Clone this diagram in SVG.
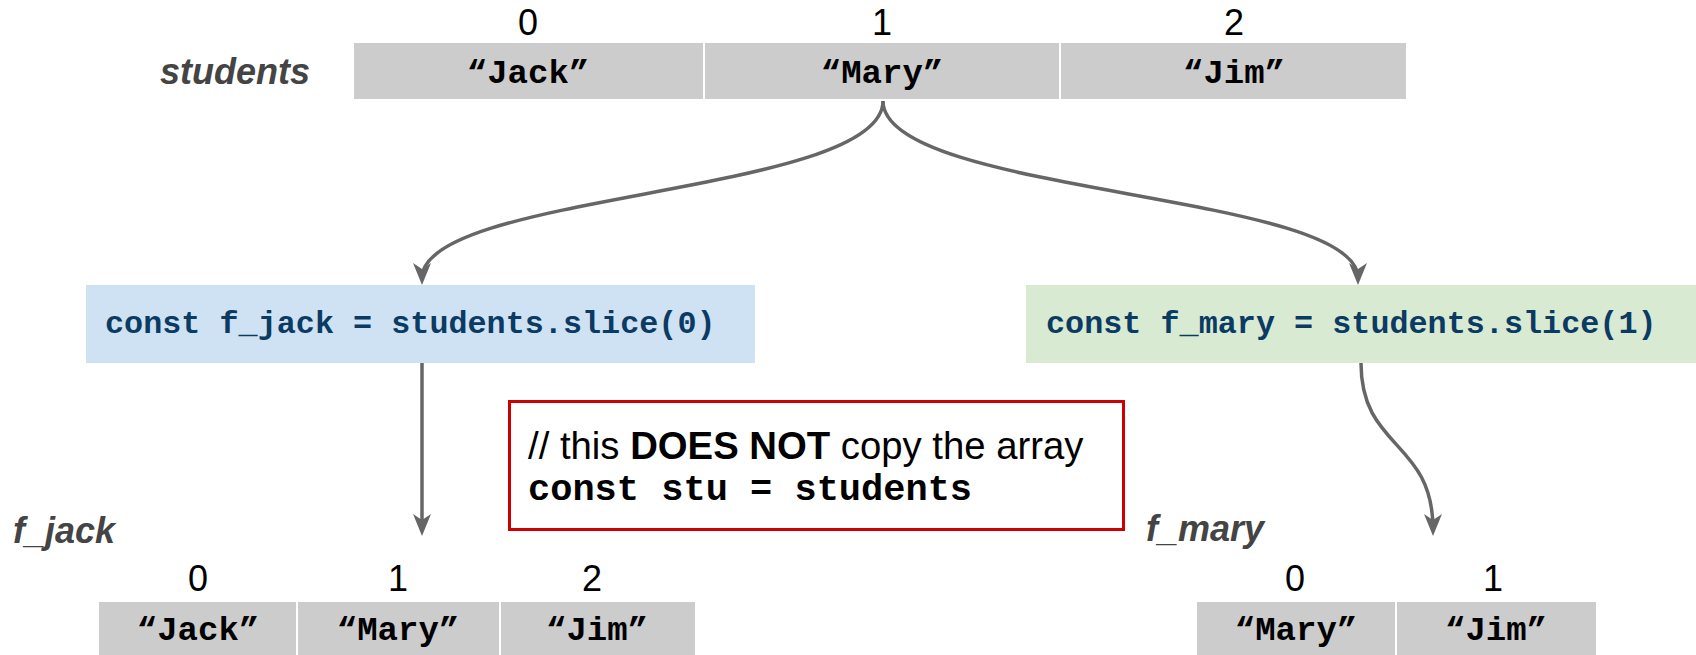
<svg xmlns="http://www.w3.org/2000/svg" width="1696" height="655" viewBox="0 0 1696 655">
<defs>
<style>
.cell{fill:#cccccc}
.val{font-family:"Liberation Mono","Courier New",monospace;font-weight:bold;font-size:34px;fill:#000;text-anchor:middle}
.idx{font-family:"Liberation Sans",Arial,sans-serif;font-size:36px;fill:#000;text-anchor:middle}
.lbl{font-family:"Liberation Sans",Arial,sans-serif;font-size:36px;font-weight:bold;font-style:italic;fill:#444444}
.code{font-family:"Liberation Mono","Courier New",monospace;font-weight:bold;font-size:31.8px;fill:#0b3a63}
.conn{fill:none;stroke:#666666;stroke-width:3.5}
</style>
<marker id="arr" viewBox="0 0 22 18" refX="15" refY="9" markerWidth="22" markerHeight="18" markerUnits="userSpaceOnUse" orient="auto">
<path d="M0,0 L22,9 L0,18 L6,9 Z" fill="#666666"/>
</marker>
</defs>

<g id="students-array">
<text class="lbl" x="160" y="84">students</text>
<rect class="cell" x="354" y="43" width="349" height="56"/>
<rect class="cell" x="705" y="43" width="354" height="56"/>
<rect class="cell" x="1061" y="43" width="345" height="56"/>
<text class="idx" x="528" y="35">0</text>
<text class="idx" x="882" y="35">1</text>
<text class="idx" x="1234" y="35">2</text>
<text class="val" x="528" y="83">“Jack”</text>
<text class="val" x="882" y="83">“Mary”</text>
<text class="val" x="1234" y="83">“Jim”</text>
</g>

<g id="slice0">
<rect x="86" y="285" width="669" height="78" fill="#cfe2f3"/>
<text class="code" x="105" y="333">const f_jack = students.slice(0)</text>
</g>

<g id="slice1">
<rect x="1026" y="285" width="670" height="78" fill="#d9ead3"/>
<text class="code" x="1046" y="333">const f_mary = students.slice(1)</text>
</g>

<g id="note">
<rect x="509.5" y="401.5" width="614" height="128" fill="#ffffff" stroke="#cc0000" stroke-width="3"/>
<text x="528" y="459" font-family="'Liberation Sans',Arial,sans-serif" font-size="38.3px" fill="#000">// this <tspan font-weight="bold">DOES NOT</tspan> copy the array</text>
<text x="528" y="500" font-family="'Liberation Mono','Courier New',monospace" font-weight="bold" font-size="37px" fill="#000">const stu = students</text>
</g>

<g id="f_jack-array">
<text class="lbl" x="13" y="543">f_jack</text>
<rect class="cell" x="99" y="602" width="197" height="53"/>
<rect class="cell" x="298" y="602" width="201" height="53"/>
<rect class="cell" x="501" y="602" width="194" height="53"/>
<text class="idx" x="198" y="591">0</text>
<text class="idx" x="398" y="591">1</text>
<text class="idx" x="592" y="591">2</text>
<text class="val" x="198" y="640">“Jack”</text>
<text class="val" x="398" y="640">“Mary”</text>
<text class="val" x="597" y="640">“Jim”</text>
</g>

<g id="f_mary-array">
<text class="lbl" x="1146" y="541">f_mary</text>
<rect class="cell" x="1197" y="602" width="198" height="53"/>
<rect class="cell" x="1397" y="602" width="199" height="53"/>
<text class="idx" x="1295" y="591">0</text>
<text class="idx" x="1493" y="591">1</text>
<text class="val" x="1296" y="640">“Mary”</text>
<text class="val" x="1496" y="640">“Jim”</text>
</g>

<g id="connectors">
<path class="conn" d="M883,101 C883,195 422,192 422,278" marker-end="url(#arr)"/>
<path class="conn" d="M883,101 C883,195 1358,192 1358,278" marker-end="url(#arr)"/>
<path class="conn" d="M422,363 L422,529" marker-end="url(#arr)"/>
<path class="conn" d="M1361,363 C1361,450 1433,440 1433,529" marker-end="url(#arr)"/>
</g>
</svg>
